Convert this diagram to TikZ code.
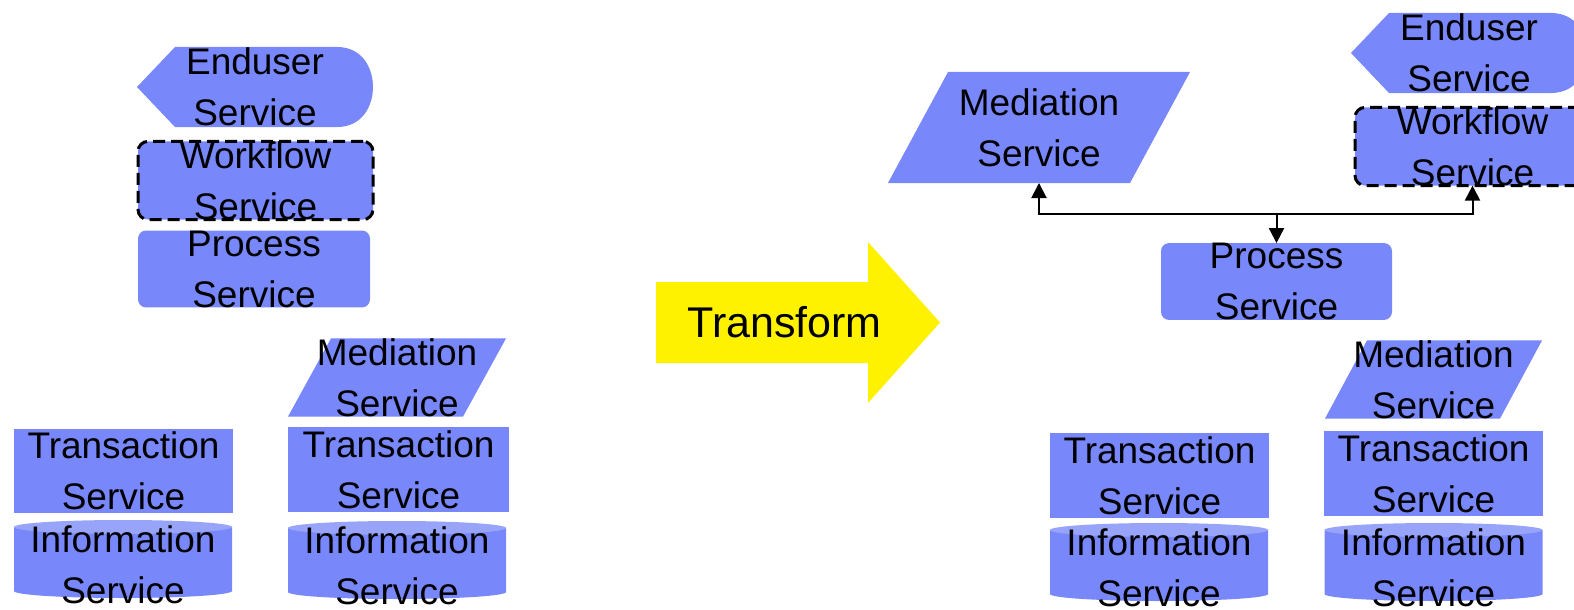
\documentclass[tikz,border=0pt]{standalone}
\usepackage{fontspec}
\setmainfont{Liberation Sans}
\usetikzlibrary{arrows.meta}

\definecolor{svc}{RGB}{120,136,250}
\definecolor{svctop}{RGB}{152,164,250}

\tikzset{
  svcfont/.style={font=\fontsize{37pt}{51pt}\selectfont, align=center, text=black},
  base/.style={svcfont, shape=rectangle, inner sep=0pt, outer sep=0pt},
  % plain rectangle
  txbox/.style={base, fill=svc},
  % rounded rectangle
  procbox/.style={base, fill=svc, rounded corners=8pt},
  % rounded rectangle with a dashed border
  flowbox/.style={base, fill=svc, draw=black, line width=3pt,
    dash pattern=on 12pt off 6pt, rounded corners=10pt},
  % parallelogram leaning right, #1 = horizontal slant
  para/.style={base, path picture={
    \fill[svc] (path picture bounding box.south west)
      -- ([xshift=-#1]path picture bounding box.south east)
      -- (path picture bounding box.north east)
      -- ([xshift=#1]path picture bounding box.north west) -- cycle;}},
  % display shape: pointed left end, rounded right end
  display/.style={base, path picture={
    \fill[svc] (path picture bounding box.west)
      -- ([xshift=38pt]path picture bounding box.north west)
      -- ([xshift=-36pt]path picture bounding box.north east)
      .. controls ([xshift=-10pt]path picture bounding box.north east)
         and ([yshift=-22pt]path picture bounding box.north east)
      .. (path picture bounding box.east)
      .. controls ([yshift=22pt]path picture bounding box.south east)
         and ([xshift=-10pt]path picture bounding box.south east)
      .. ([xshift=-36pt]path picture bounding box.south east)
      -- ([xshift=38pt]path picture bounding box.south west) -- cycle;}},
  % cylinder (data store); the body ends 12pt above the node bottom
  infobox/.style={base, minimum width=218pt, minimum height=90pt, path picture={
    \fill[svc] ([yshift=-7pt]path picture bounding box.north west)
      -- ([yshift=19pt]path picture bounding box.south west)
      arc[start angle=180, end angle=360, x radius=109pt, y radius=7pt]
      -- ([yshift=-7pt]path picture bounding box.north east) -- cycle;
    \fill[svctop] ([yshift=-7pt]path picture bounding box.north)
      ellipse [x radius=109pt, y radius=7pt];}},
  conn/.style={line width=2pt, -{Triangle[width=15pt,length=15pt]}},
}

\begin{document}
\begin{tikzpicture}[x=1pt, y=-1pt]
  \useasboundingbox (0,0) rectangle (1574,610);
  \fill[white] (0,0) rectangle (1574,610);

  % ---- left stack ----
  \node[display, minimum width=236pt, minimum height=80pt] (eu1) at (255,87) {Enduser\\Service};
  \node[flowbox, minimum width=235pt, minimum height=75pt] (wf1) at (255.5,180.5) {Workflow\\Service};
  \node[procbox, minimum width=232pt, minimum height=72pt] (pr1) at (254,269) {Process\\Service};
  \node[para=43pt, minimum width=218pt, minimum height=75pt] (md1) at (397,377.5) {Mediation\\Service};
  \node[txbox, minimum width=219pt, minimum height=84pt] (tr1) at (123.5,471) {Transaction\\Service};
  \node[infobox] (in1) at (123,565) {Information\\Service};
  \node[txbox, minimum width=221pt, minimum height=85pt] (tr2) at (398.5,469.5) {Transaction\\Service};
  \node[infobox] (in2) at (397,566) {Information\\Service};

  % ---- transform arrow ----
  \fill[yellow] (656,282) -- (868,282) -- (868,242) -- (940,322.5)
    -- (868,403) -- (868,363) -- (656,363) -- cycle;
  \node[font=\fontsize{43pt}{50pt}\selectfont, inner sep=0pt] (tf) at (784.5,322.5) {Transform};

  % ---- right layout ----
  \node[para=60pt, minimum width=302pt, minimum height=111pt] (md3) at (1039,127.5) {Mediation\\Service};
  \node[display, minimum width=236pt, minimum height=80pt] (eu2) at (1469,53) {Enduser\\Service};
  \node[flowbox, minimum width=235pt, minimum height=73pt] (wf2) at (1472.5,146.5) {Workflow\\Service};
  \node[procbox, minimum width=231pt, minimum height=71pt] (pr2) at (1276.5,281.5) {Process\\Service};
  \node[para=42pt, minimum width=217pt, minimum height=75pt] (md4) at (1433.5,379.5) {Mediation\\Service};
  \node[txbox, minimum width=219pt, minimum height=85pt] (tr3) at (1159.5,475.5) {Transaction\\Service};
  \node[infobox] (in3) at (1159,568) {Information\\Service};
  \node[txbox, minimum width=219pt, minimum height=85pt] (tr4) at (1433.5,473.5) {Transaction\\Service};
  \node[infobox] (in4) at (1433.5,568) {Information\\Service};

  % ---- connectors from the process service ----
  \coordinate (jn) at (1276.5,214);
  \draw[conn] (jn) -- (pr2.north);
  \draw[conn] (jn) -| (md3.south);
  \draw[conn] (jn) -| (wf2.south);
\end{tikzpicture}
\end{document}
